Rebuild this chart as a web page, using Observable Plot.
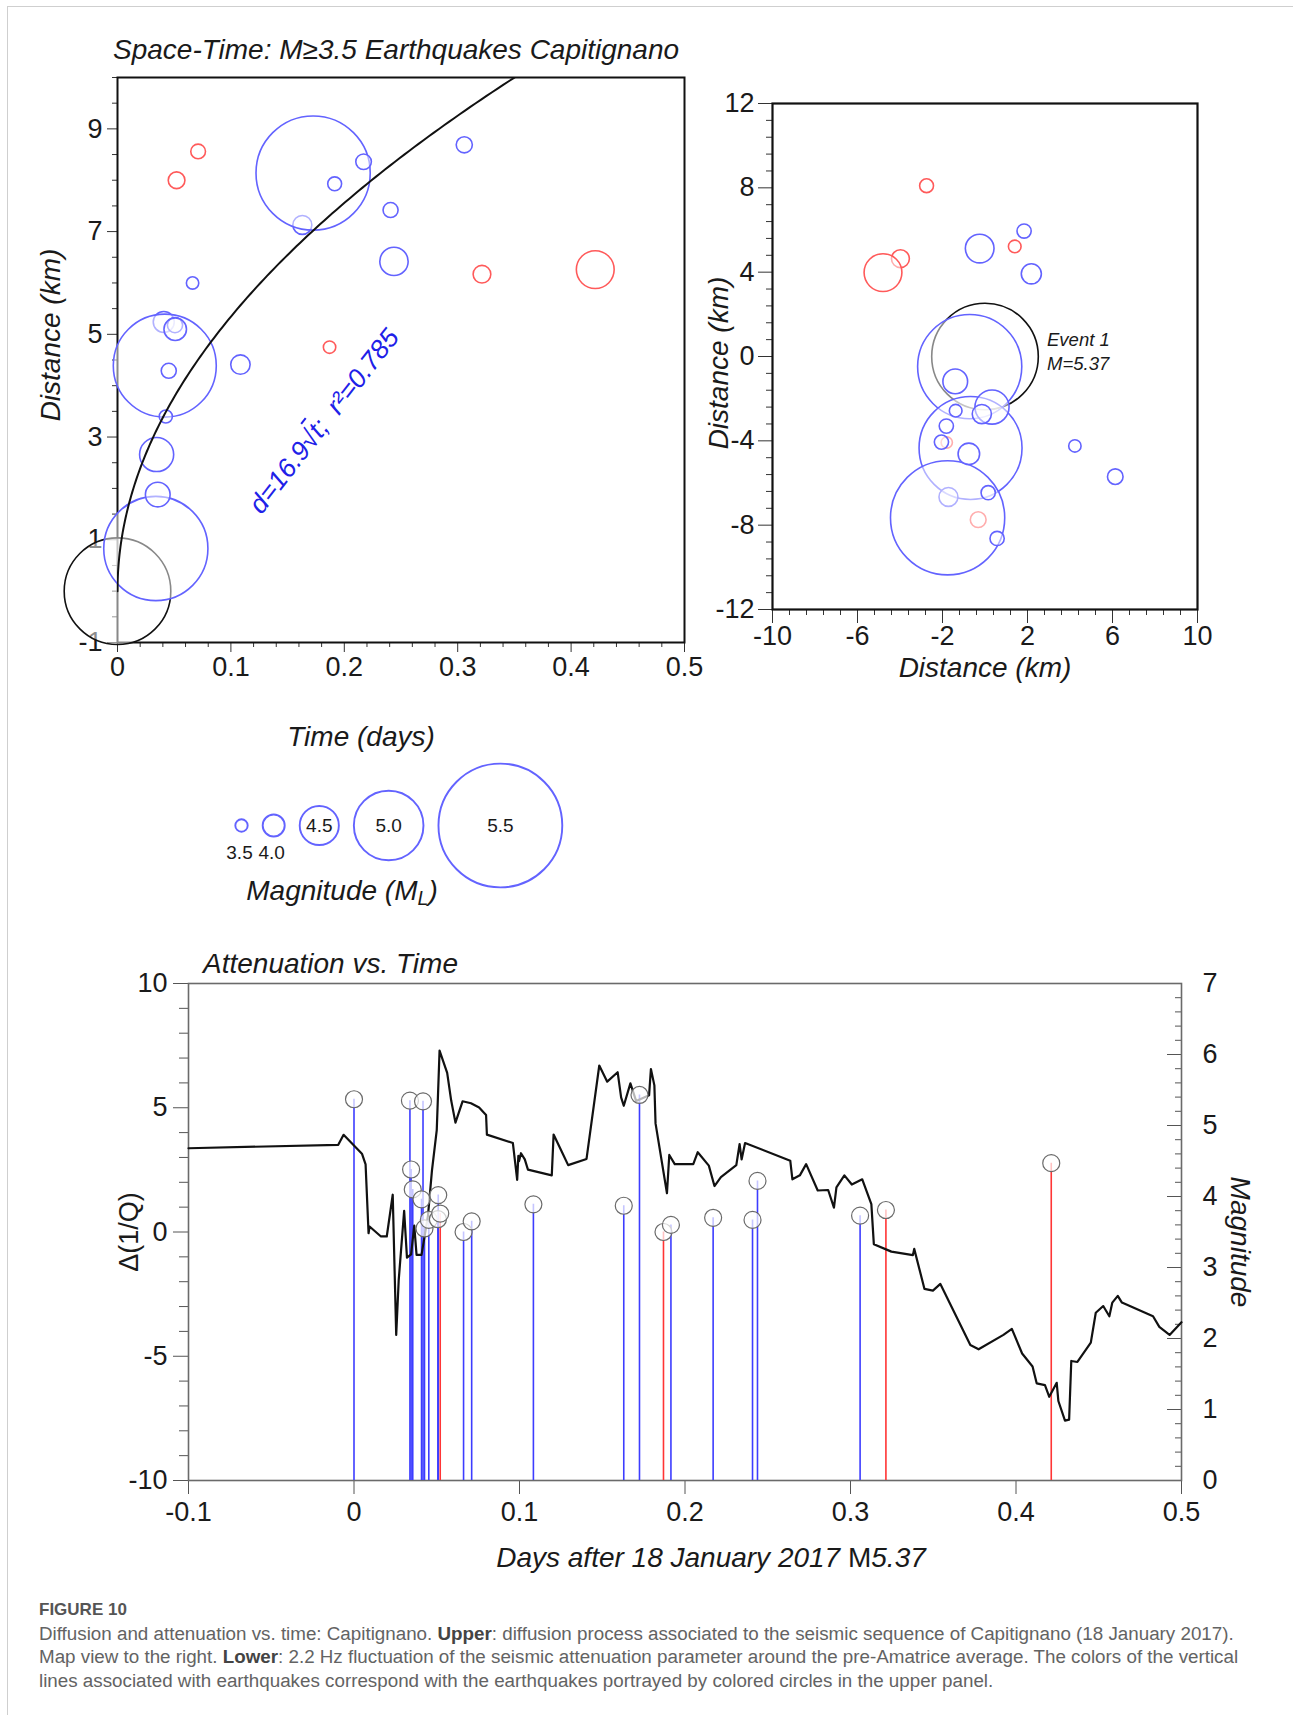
<!DOCTYPE html>
<html>
<head>
<meta charset="utf-8">
<script src="https://cdn.jsdelivr.net/npm/d3@7"></script>
<script src="https://cdn.jsdelivr.net/npm/@observablehq/plot@0.6"></script>
<style>
  html, body { margin: 0; padding: 0; background: #fff; }
  #fig { position: relative; width: 1293px; height: 1715px; overflow: hidden; background: #fff;
         font-family: "Liberation Sans", Arial, Helvetica, sans-serif; color: #1a1a1a; }
  .abs { position: absolute; white-space: nowrap; line-height: 1; }
  .it { font-style: italic; }
  #border { position: absolute; left: 7px; top: 6px; width: 1400px; height: 1800px;
            border-left: 1px solid #cfcfcf; border-top: 1px solid #cfcfcf; }
  .cap { position: absolute; left: 39px; white-space: nowrap; color: #636363; font-size: 18.8px; }
</style>
</head>
<body>
<div id="fig"><div id="border"></div></div>
<script>
// ------------------------- DATA -------------------------
// Earthquakes (upper-left space-time panel and lower attenuation panel)
// group: "main" = Event 1, "grpB" = blue circles, "grpR" = red circles
const evTime  = [0, 0.0338, 0.0345, 0.0355, 0.0408, 0.0417, 0.0426, 0.0452, 0.0507, 0.0509, 0.0521, 0.0662,
                 0.0711, 0.1084, 0.1630, 0.1725, 0.1870, 0.1915, 0.2170, 0.2408, 0.2438, 0.3058, 0.3214, 0.4213];
const evDist  = [0.00, 0.83, 2.66, 1.88, 5.24, 4.39, 3.40, 4.29, 5.18, 5.10, 8.00, 6.00,
                 8.56, 4.41, 7.13, 8.14, 4.75, 7.93, 8.36, 7.42, 6.42, 8.69, 6.17, 6.26];
const evMag   = [5.37, 5.35, 4.38, 4.10, 3.96, 5.34, 3.55, 3.67, 3.68, 4.02, 3.76, 3.50,
                 3.65, 3.89, 3.87, 5.43, 3.50, 3.60, 3.70, 3.67, 4.22, 3.73, 3.81, 4.47];
const evGroup = ["main", "grpB", "grpB", "grpB", "grpB", "grpB", "grpB", "grpB", "grpB", "grpB", "grpR", "grpB",
                 "grpR", "grpB", "grpB", "grpB", "grpR", "grpB", "grpB", "grpB", "grpB", "grpB", "grpR", "grpR"];
const stemGroup = ["grpB", "grpB", "grpB", "grpB", "grpB", "grpB", "grpB", "grpB", "grpB", "grpB", "grpR", "grpB",
                 "grpB", "grpB", "grpB", "grpB", "grpR", "grpB", "grpB", "grpB", "grpB", "grpB", "grpR", "grpR"];

// Map view (east / north offsets from Event 1, km), in drawing order
const mapEast  = [-2.75, 1.40, -3.98, -4.80, -1.80, -0.32, 0, -0.72, -0.68, -1.72, -1.76, -1.40, 0.33, -0.15,
                  -1.38, -1.82, -2.05, -0.76, 0.15, 0.57, 4.23, 6.13, 1.84, -0.25, 2.18];
const mapNorth = [8.10, 5.22, 4.64, 3.98, -4.08, -7.74, 0, -0.48, -4.34, -6.66, -7.65, -1.18, -2.40, -2.73,
                  -2.57, -3.30, -4.06, -4.62, -6.46, -8.63, -4.24, -5.70, 5.95, 5.12, 3.92];
const mapMag   = [3.60, 3.52, 3.82, 4.47, 3.42, 3.71, 5.37, 5.35, 5.34, 3.87, 5.43, 4.10, 4.38, 3.88,
                  3.52, 3.62, 3.62, 3.98, 3.62, 3.62, 3.50, 3.70, 3.62, 4.23, 3.92];
const mapGroup = ["grpR", "grpR", "grpR", "grpR", "grpR", "grpR", "main", "grpB", "grpB", "grpB", "grpB", "grpB",
                  "grpB", "grpB", "grpB", "grpB", "grpB", "grpB", "grpB", "grpB", "grpB", "grpB", "grpB", "grpB", "grpB"];

// Attenuation fluctuation Δ(1/Q) vs time (days)
const attT = [-0.1, -0.0095, -0.0063, 0.0048, 0.0070, 0.0088, 0.0094, 0.0163, 0.0198, 0.0234, 0.0255, 0.0270,
  0.0303, 0.0320, 0.0345, 0.0364, 0.0378, 0.0408, 0.0447, 0.0471, 0.0500, 0.0517, 0.0563, 0.0587, 0.0613,
  0.0656, 0.0707, 0.0756, 0.0798, 0.0803, 0.0960, 0.0986, 0.0993, 0.0997, 0.1009, 0.1032, 0.1051, 0.1195,
  0.1206, 0.1260, 0.1294, 0.1405, 0.1482, 0.1530, 0.1593, 0.1614, 0.1630, 0.1670, 0.1705, 0.1783, 0.1794,
  0.1815, 0.1822, 0.1891, 0.1905, 0.1938, 0.2050, 0.2077, 0.2144, 0.2178, 0.2217, 0.2310, 0.2330, 0.2342,
  0.2363, 0.2636, 0.2649, 0.2694, 0.2732, 0.2802, 0.2865, 0.2900, 0.2915, 0.2963, 0.3008, 0.3071, 0.3126,
  0.3141, 0.3247, 0.3377, 0.3385, 0.3447, 0.3498, 0.3543, 0.3724, 0.3774, 0.3924, 0.3975, 0.4037, 0.4100,
  0.4125, 0.4175, 0.4201, 0.4246, 0.4256, 0.4296, 0.4321, 0.4334, 0.4371, 0.4452, 0.4482, 0.4527, 0.4564,
  0.4582, 0.4615, 0.4640, 0.4828, 0.4866, 0.4928, 0.5000];
const attD = [3.37, 3.51, 3.91, 3.15, 2.72, -0.05, 0.22, -0.18, -0.18, 1.50, -4.14, -1.95,
  0.85, -1.03, -0.90, 0.26, -0.92, -0.92, 0.66, 2.47, 4.10, 7.30, 6.40, 5.30, 4.40,
  5.26, 5.18, 5.01, 4.71, 3.92, 3.58, 2.10, 3.06, 2.85, 3.17, 2.92, 2.51, 2.28,
  3.92, 3.17, 2.69, 2.94, 6.70, 6.05, 6.43, 5.42, 5.08, 5.98, 5.27, 5.50, 6.56,
  5.90, 4.37, 1.56, 3.10, 2.73, 2.73, 3.21, 2.67, 1.85, 2.21, 2.69, 3.54, 2.92,
  3.58, 2.87, 2.12, 2.28, 2.73, 1.67, 1.69, 0.98, 1.80, 2.28, 1.91, 2.12, 1.12,
  -0.49, -0.79, -0.93, -0.68, -2.29, -2.36, -2.09, -4.55, -4.72, -4.14, -3.90, -4.89, -5.41,
  -6.09, -6.16, -6.63, -6.07, -6.80, -7.59, -7.55, -5.19, -5.23, -4.45, -3.25, -2.98, -3.39,
  -2.84, -2.57, -2.84, -3.39, -3.82, -4.14, -3.63];

// Diffusion fit d = c·sqrt(t) (coefficient printed on the chart)
const fitCoef = 16.9;
const fitTMax = 0.35;

// Legend magnitudes
const legendMags = [3.5, 4.0, 4.5, 5.0, 5.5];

// Tick values
const stXTicks = [0, 0.1, 0.2, 0.3, 0.4, 0.5];
const stYTicks = [-1, 1, 3, 5, 7, 9];
const mapXTicks = [-10, -6, -2, 2, 6, 10];
const mapYTicks = [-12, -8, -4, 0, 4, 8, 12];
const attXTicks = [-0.1, 0, 0.1, 0.2, 0.3, 0.4, 0.5];
const attYTicks = [-10, -5, 0, 5, 10];
const magTicks = [0, 1, 2, 3, 4, 5, 6, 7];

// ------------------------- STYLE / HELPERS -------------------------
const FONT = '"Liberation Sans", Arial, Helvetica, sans-serif';
const BLUE = "#6363ff", RED = "#ff5a5a", BLACK = "#111111";
const colorScale = {type: "ordinal", domain: ["main", "grpB", "grpR"], range: [BLACK, BLUE, RED]};
const stemColor = {type: "ordinal", domain: ["main", "grpB", "grpR"], range: [BLACK, "#3d3dff", "#ff3535"]};
const amp = m => Math.pow(10, m / 2);              // amplitude -> circle radius via linear r scale
const rScale = {type: "linear", domain: [0, amp(5.5)], range: [0, 61.9]};
const fmt1 = d => Math.abs(d) < 1e-9 ? "0" : (d < 0 ? "-" : "") + Math.abs(d).toFixed(1);
const fmtInt = d => (d < 0 ? "-" : "") + Math.abs(Math.round(d));
const range = (a, b, s) => d3.range(Math.round((b - a) / s) + 1).map(i => +(a + i * s).toFixed(6));
const without = (arr, major) => arr.filter(v => !major.some(m => Math.abs(m - v) < 1e-6));
const baseStyle = {fontFamily: FONT, fontSize: "27px", color: "#1a1a1a", background: "none", overflow: "visible"};

const fig = document.getElementById("fig");
function place(el, left, top) {
  el.style.position = "absolute"; el.style.left = left + "px"; el.style.top = top + "px";
  el.style.maxWidth = "none";
  fig.appendChild(el);
}
function label(html, x, y, {size = 28, italic = true, anchor = "middle", rotate = 0, color = "#1a1a1a"} = {}) {
  const d = document.createElement("div");
  d.className = "abs" + (italic ? " it" : "");
  d.innerHTML = html;
  d.style.left = x + "px"; d.style.top = y + "px";
  d.style.fontSize = size + "px"; d.style.color = color;
  const tx = anchor === "start" ? "0" : "-50%";
  d.style.transform = `translate(${tx}, -50%)` + (rotate ? ` rotate(${rotate}deg)` : "");
  if (anchor === "start") d.style.transformOrigin = "0 50%";
  fig.appendChild(d);
}

const events = evTime.map((t, i) => ({t, d: evDist[i], m: evMag[i], g: evGroup[i], sg: stemGroup[i]}));
const mapPts = mapEast.map((e, i) => ({e, n: mapNorth[i], m: mapMag[i], g: mapGroup[i]}));
const att = attT.map((t, i) => ({t, d: attD[i]}));
const fitCurve = d3.range(0, 141).map(i => (fitTMax * i * i) / (140 * 140)).map(t => ({t, d: fitCoef * Math.sqrt(t)}));

const circleOpts = {r: d => amp(d.m), stroke: "g", fill: "white", fillOpacity: 0.5, strokeWidth: 1.6, sort: null};

// ------------------------- UPPER LEFT: SPACE-TIME -------------------------
const stXMinor = without(range(0, 0.5, 0.02), stXTicks);
const stYMinor = without(range(-1, 10, 0.5), stYTicks);
const p1 = Plot.plot({
  width: 700, height: 700,
  marginLeft: 117, marginRight: 16, marginTop: 77, marginBottom: 58,
  x: {domain: [0, 0.5], label: null},
  y: {domain: [-1, 10], label: null},
  r: rScale, color: colorScale,
  style: baseStyle,
  marks: [
    Plot.axisX({ticks: stXMinor, tickSize: 5, tickFormat: () => "", label: null, stroke: "#333"}),
    Plot.axisX({ticks: stXTicks, tickSize: 10, tickPadding: 4, tickFormat: fmt1, label: null, stroke: "#333"}),
    Plot.axisY({ticks: stYMinor, tickSize: 5, tickFormat: () => "", label: null, stroke: "#333"}),
    Plot.axisY({ticks: stYTicks, tickSize: 10, tickPadding: 5, tickFormat: fmtInt, label: null, stroke: "#333"}),
    Plot.frame({stroke: "#111", strokeWidth: 2}),
    Plot.dot(events.filter(e => e.g === "grpR"), {x: "t", y: "d", ...circleOpts}),
    Plot.dot(events.filter(e => e.g !== "grpR"), {x: "t", y: "d", ...circleOpts}),
    Plot.line(fitCurve, {x: "t", y: "d", stroke: "#111", strokeWidth: 2, clip: true})
  ]
});
place(p1, 0, 0);

// ------------------------- UPPER RIGHT: MAP VIEW -------------------------
const mapXMinor = without(range(-10, 10, 0.8), mapXTicks);
const mapYMinor = without(range(-12, 12, 0.8), mapYTicks);
const p2 = Plot.plot({
  width: 560, height: 640,
  marginLeft: 72, marginRight: 63, marginTop: 43, marginBottom: 91,
  x: {domain: [-10, 10], label: null},
  y: {domain: [-12, 12], label: null},
  r: rScale, color: colorScale,
  style: baseStyle,
  marks: [
    Plot.axisX({ticks: mapXMinor, tickSize: 6, tickFormat: () => "", label: null, stroke: "#333"}),
    Plot.axisX({ticks: mapXTicks, tickSize: 14, tickPadding: 2, tickFormat: fmtInt, label: null, stroke: "#333"}),
    Plot.axisY({ticks: mapYMinor, tickSize: 6, tickFormat: () => "", label: null, stroke: "#333"}),
    Plot.axisY({ticks: mapYTicks, tickSize: 14, tickPadding: 4, tickFormat: fmtInt, label: null, stroke: "#333"}),
    Plot.frame({stroke: "#111", strokeWidth: 2.2}),
    Plot.dot(mapPts, {x: "e", y: "n", ...circleOpts})
  ]
});
place(p2, 700, 60);

// ------------------------- MAGNITUDE LEGEND -------------------------
const rPix = Plot.scale({r: rScale});
const legendGap = 15;
let cursor = 241 - rPix.apply(amp(legendMags[0]));
const legendData = legendMags.map(m => {
  const rr = rPix.apply(amp(m));
  const cx = cursor + rr;
  cursor = cx + rr + legendGap;
  return {m, cx, rr, g: "grpB"};
});
const pLeg = Plot.plot({
  width: 700, height: 140, margin: 0,
  x: {type: "identity", axis: null}, y: {type: "identity", axis: null},
  r: rScale, color: colorScale,
  style: {...baseStyle, fontSize: "19px"},
  marks: [
    Plot.dot(legendData, {x: "cx", y: 70, r: d => amp(d.m), stroke: "g", strokeWidth: 1.9, fill: "none", sort: null}),
    Plot.text(legendData.filter(d => d.m < 4.25), {x: "cx", y: 97, dx: -2, text: d => d.m.toFixed(1), fill: "#1a1a1a"}),
    Plot.text(legendData.filter(d => d.m >= 4.25), {x: "cx", y: 70, text: d => d.m.toFixed(1), fill: "#1a1a1a"})
  ]
});
place(pLeg, 0, 755);

// ------------------------- LOWER: ATTENUATION VS TIME -------------------------
const magToY = m => -10 + m * 20 / 7;   // magnitude axis (0..7) drawn on the Δ(1/Q) axis (-10..10)
const yToMag = y => (y + 10) * 7 / 20;
const FW = 1293 - 188 - 112;
const attYMinor = without(range(-10, 10, 1), attYTicks);
const magMinor = without(range(0, 7, 0.2), magTicks);
const p3 = Plot.plot({
  width: 1293, height: 660,
  marginLeft: 188, marginRight: 112, marginTop: 53, marginBottom: 110,
  x: {domain: [-0.1, 0.5], label: null},
  y: {domain: [-10, 10], label: null},
  color: stemColor,
  style: baseStyle,
  marks: [
    Plot.axisY({ticks: attYMinor, tickSize: 9, tickFormat: () => "", label: null, stroke: "#555"}),
    Plot.axisY({ticks: attYTicks, tickSize: 15, tickPadding: 6, tickFormat: fmtInt, label: null, stroke: "#555"}),
    Plot.axisX({ticks: attXTicks, tickSize: 14, tickPadding: 7, tickFormat: fmt1, label: null, stroke: "#555"}),
    Plot.tickY(magMinor.map(magToY), {y: d => d, insetLeft: FW - 6, stroke: "#555"}),
    Plot.tickY(magTicks.map(magToY), {y: d => d, insetLeft: FW - 14, stroke: "#555"}),
    Plot.axisY({anchor: "right", ticks: magTicks.map(magToY), tickSize: 0, tickPadding: 21,
                tickFormat: d => fmtInt(yToMag(d)), label: null}),
    Plot.frame({stroke: "#6a6a6a", strokeWidth: 1.6}),
    Plot.ruleX(events, {x: "t", y1: -10, y2: d => magToY(d.m), stroke: "sg", strokeWidth: 1.6}),
    Plot.line(att, {x: "t", y: "d", stroke: "#111", strokeWidth: 2.2}),
    Plot.dot(events, {x: "t", y: d => magToY(d.m), r: 8.5, fill: "white", fillOpacity: 0.7,
                      stroke: "#6a6a6a", strokeWidth: 1.2})
  ]
});
place(p3, 0, 930);

// ------------------------- TEXT -------------------------
label("Space-Time: M≥3.5 Earthquakes Capitignano", 113, 50, {anchor: "start", size: 28});
label("Distance (km)", 51, 335, {rotate: -90, size: 28});
label("Time (days)", 361, 737, {size: 28});
label('d=16.9√<span style="text-decoration:overline">t</span>;&nbsp; r²=0.785', 324, 421,
      {rotate: -52, size: 26.5, color: "#2020e8"});

label("Distance (km)", 985, 668, {size: 28});
label("Distance (km)", 719, 363, {rotate: -90, size: 28});
label("Event 1", 1047, 340, {anchor: "start", size: 18.5});
label("M=5.37", 1047, 364, {anchor: "start", size: 18.5});

label('Magnitude (M<sub style="font-size:0.7em;vertical-align:-0.25em">L</sub>)', 342, 893, {size: 28});

label("Attenuation vs. Time", 203, 964, {anchor: "start", size: 28});
label("Δ(1/Q)", 129, 1232, {rotate: -90, size: 27, italic: false});
label("Magnitude", 1240, 1242, {rotate: 90, size: 28});
label('Days after 18 January 2017 <span style="font-style:normal">M</span>5.37', 711, 1558, {size: 28});

// Caption
const cap = [
  ['<b style="color:#555;font-size:17px">FIGURE 10</b>', 1609],
  ['Diffusion and attenuation vs. time: Capitignano. <b style="color:#444">Upper</b>: diffusion process associated to the seismic sequence of Capitignano (18 January 2017).', 1634],
  ['Map view to the right. <b style="color:#444">Lower</b>: 2.2 Hz fluctuation of the seismic attenuation parameter around the pre-Amatrice average. The colors of the vertical', 1657],
  ['lines associated with earthquakes correspond with the earthquakes portrayed by colored circles in the upper panel.', 1681]
];
for (const [html, y] of cap) {
  const d = document.createElement("div");
  d.className = "cap";
  d.innerHTML = html;
  d.style.top = y + "px";
  d.style.transform = "translateY(-50%)";
  fig.appendChild(d);
}
</script>
</body>
</html>
